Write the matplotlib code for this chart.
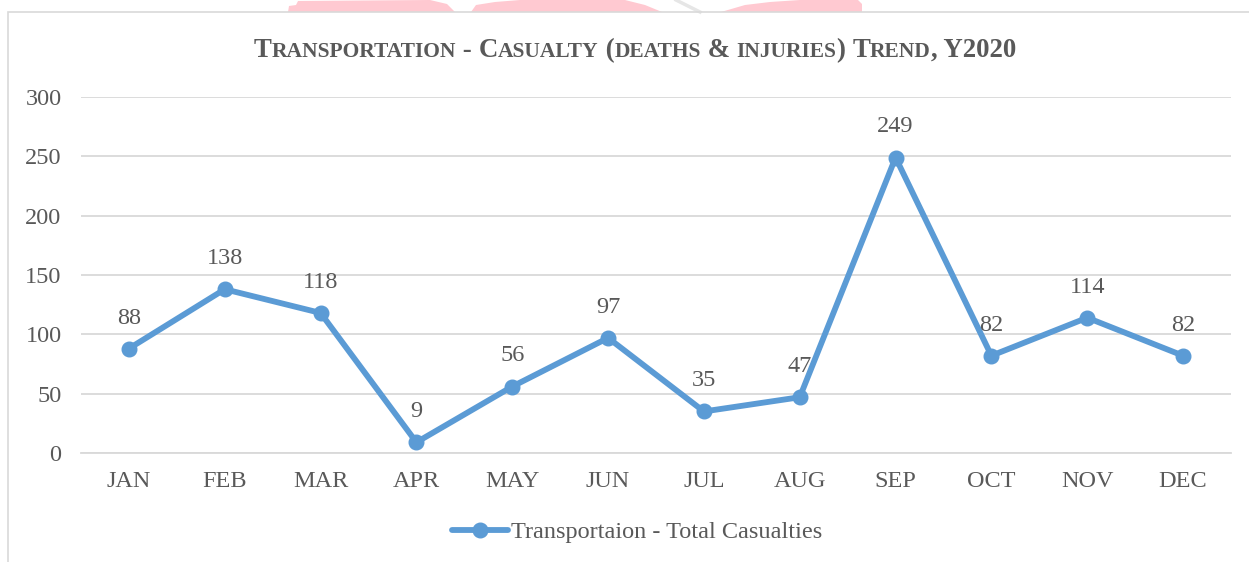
import matplotlib
matplotlib.use("Agg")
import matplotlib.pyplot as plt
from matplotlib.patches import Rectangle, Polygon

months = ["JAN", "FEB", "MAR", "APR", "MAY", "JUN", "JUL", "AUG", "SEP", "OCT", "NOV", "DEC"]
casualties = [88, 138, 118, 9, 56, 97, 35, 47, 249, 82, 114, 82]
series_name = "Transportaion - Total Casualties"
yticks = [0, 50, 100, 150, 200, 250, 300]

W, H = 1249, 562
DPI = 100
LINE_C = "#5B9BD5"
TXT_C = "#595959"
GRID_C = "#D9D9D9"
FONT = "Liberation Serif"
FS = 17.5

fig = plt.figure(figsize=(W / DPI, H / DPI), dpi=DPI)
fig.patch.set_facecolor("white")

def fp(px, py):
    return (px / W, (H - py) / H)

# faint watermark fragments above the chart frame
PINK = "#FFC9D1"
for poly in [
    [(288, 12), (289, 6), (296, 5), (298, 1), (430, 0), (447, 4), (455, 12)],
    [(471, 12), (476, 5), (495, 2), (520, 0), (625, 0), (645, 5), (662, 12)],
    [(721, 12), (745, 5), (770, 2), (800, 0), (858, 0), (862, 4), (862, 12)],
]:
    fig.patches.append(Polygon([fp(*p) for p in poly], closed=True,
                               transform=fig.transFigure, facecolor=PINK,
                               edgecolor="none", zorder=0))
fig.lines.append(plt.Line2D([fp(676, 0)[0], fp(700, 12)[0]],
                            [fp(676, 0)[1], fp(700, 12)[1]],
                            transform=fig.transFigure, color="#E6E6E6", lw=2.5, zorder=0))

# chart border (continues past right and bottom edges)
fig.patches.append(Rectangle(fp(8, 600), (1300 - 8) / W, (600 - 12) / H,
                             transform=fig.transFigure, fill=False,
                             edgecolor=GRID_C, linewidth=1.2, zorder=1))

ax = fig.add_axes([81 / W, (H - 453) / H, (1231 - 81) / W, (453 - 97) / H])
ax.patch.set_alpha(0)
x = list(range(len(months)))
ax.plot(x, casualties, color=LINE_C, linewidth=4.2, marker="o", markersize=10.5,
        solid_capstyle="round", label=series_name, zorder=3, clip_on=False)
for xi, v in zip(x, casualties):
    ax.annotate(str(v), (xi, v), xytext=(0, 22), textcoords="offset points",
                ha="center", va="center", fontsize=FS, family=FONT, color=TXT_C)

ax.set_xlim(-0.5, len(months) - 0.5)
ax.set_ylim(0, 300)
ax.set_yticks(yticks)
ax.set_xticks(x)
ax.set_xticklabels(months)
ax.grid(axis="y", color=GRID_C, linewidth=1.3)
ax.set_axisbelow(True)
for s in ["top", "right", "left"]:
    ax.spines[s].set_visible(False)
ax.spines["bottom"].set_color(GRID_C)
ax.spines["bottom"].set_linewidth(1.3)
ax.tick_params(axis="both", length=0, labelsize=FS, labelcolor=TXT_C)
ax.tick_params(axis="x", pad=13)
ax.tick_params(axis="y", pad=14)
for lab in ax.get_xticklabels() + ax.get_yticklabels():
    lab.set_family(FONT)

leg = fig.legend(loc="center", bbox_to_anchor=(637 / W, (H - 532) / H),
                 frameon=False, handlelength=2.3, handletextpad=0.1,
                 prop={"family": FONT, "size": FS})
for t in leg.get_texts():
    t.set_color(TXT_C)

# small-caps title
pieces = [("T", 1), ("RANSPORTATION", 0), (" - ", 1), ("C", 1), ("ASUALTY", 0),
          (" (", 1), ("DEATHS", 0), (" & ", 1), ("INJURIES", 0), (") ", 1),
          ("T", 1), ("REND", 0), (", Y2020", 1)]
renderer = fig.canvas.get_renderer()
target_w = 1017 - 253
base = 14.0
ratio = 0.8

def measure(size):
    tot = 0
    for s, big in pieces:
        t = fig.text(0, 0, s, fontsize=size if big else size * ratio, family=FONT,
                     weight="bold")
        tot += t.get_window_extent(renderer).width
        t.remove()
    return tot

size = base * target_w / measure(base)
total = measure(size)
xpix = 635 - total / 2
ybase = H - 57
for s, big in pieces:
    t = fig.text(xpix / W, ybase / H, s, fontsize=size if big else size * ratio,
                 family=FONT, weight="bold", color="#595959", va="baseline", ha="left")
    xpix += t.get_window_extent(renderer).width

fig.savefig("out.png", dpi=DPI)
